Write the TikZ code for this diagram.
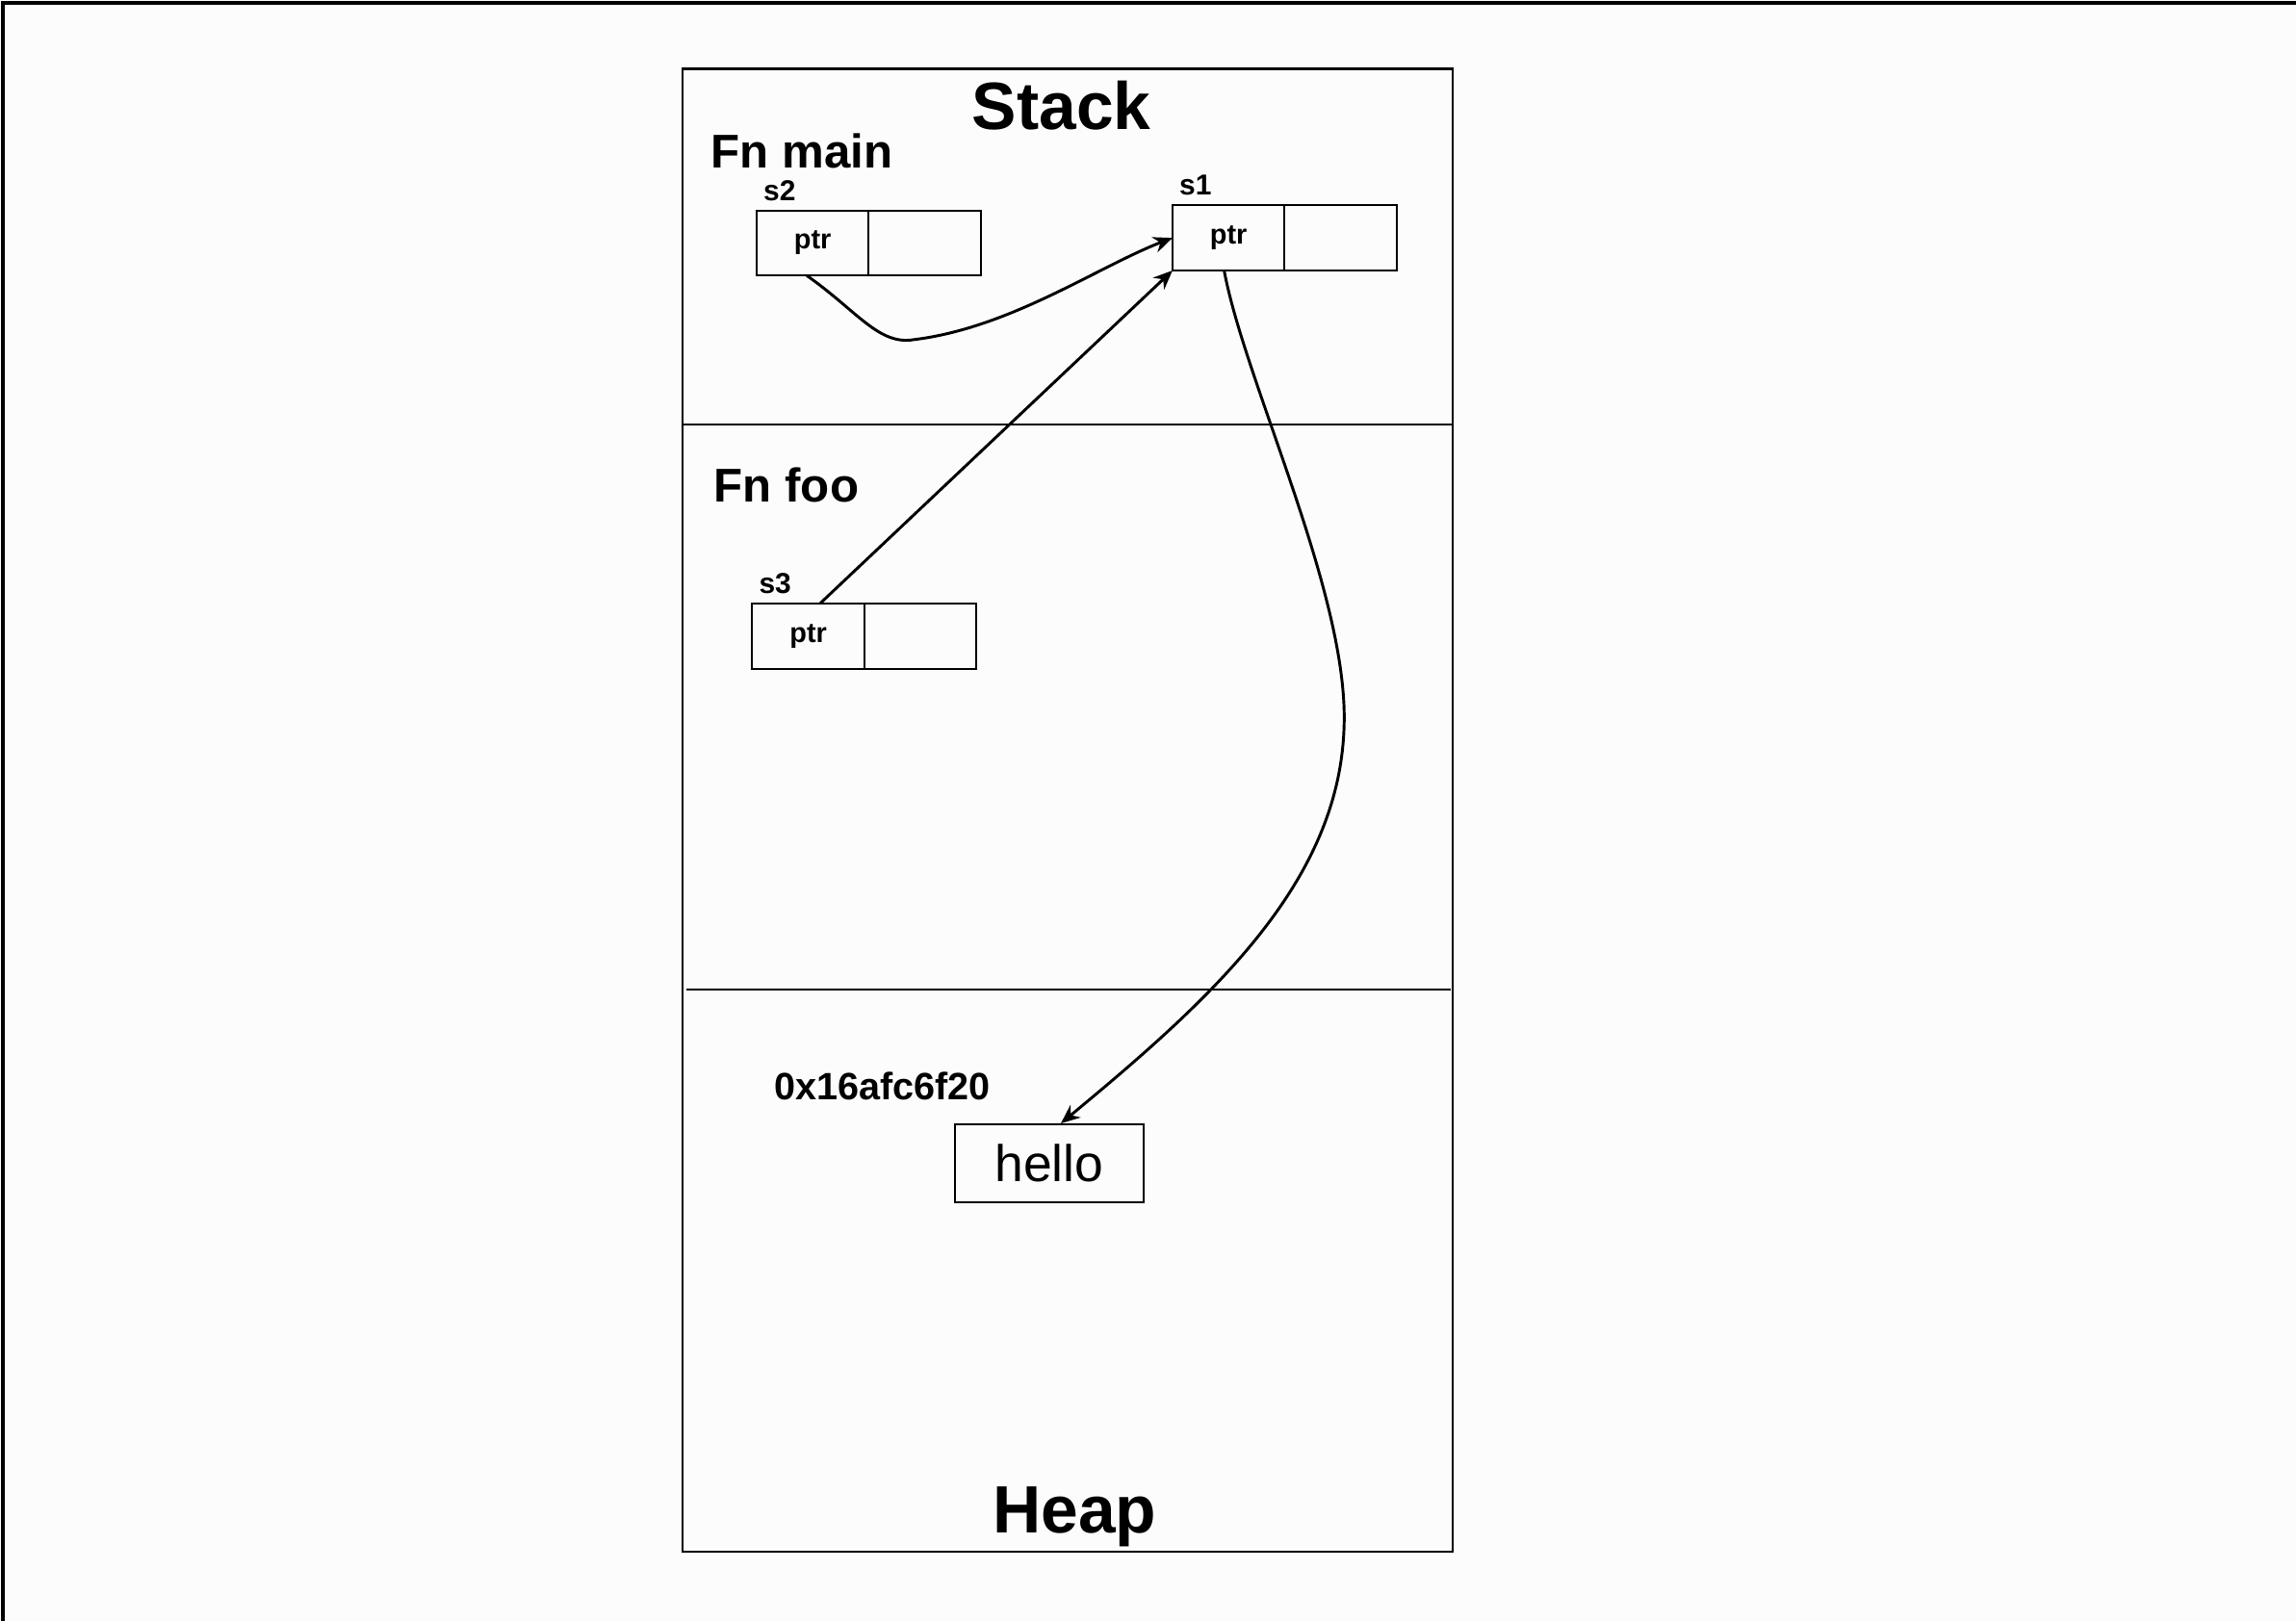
\documentclass[tikz,border=0pt]{standalone}
\usepackage{fontspec}
\setmainfont{Liberation Sans}
\usetikzlibrary{arrows.meta,positioning}
\definecolor{paper}{RGB}{252,252,252}

\tikzset{
  cell/.style={draw, line width=0.4pt, outer sep=0pt, inner sep=0pt,
    minimum width=0.765cm, minimum height=0.445cm,
    font=\fontsize{5.4}{6}\selectfont\bfseries},
  varname/.style={inner sep=0pt, font=\fontsize{5.6}{6}\selectfont\bfseries},
  frame/.style={inner sep=0pt, font=\fontsize{9.2}{10}\selectfont\bfseries},
  region/.style={inner sep=0pt, font=\fontsize{13}{14}\selectfont\bfseries},
  link/.style={line width=0.55pt, -{Stealth[length=1.3mm,width=1.1mm]}}
}

\begin{document}
\begin{tikzpicture}[x=0.01cm,y=-0.01cm]
\fill [paper] (0,0) rectangle (1568,1107);
\useasboundingbox (0,0) rectangle (1568,1107);
\draw [line width=0.6pt] (2,1107) -- (2,2) -- (1568,2);

% memory
\draw [line width=0.4pt] (466,47) rectangle (992,1060);
\draw [line width=0.4pt] (466,290) -- (992,290);
\draw [line width=0.4pt] (469,676) -- (991,676);
\node [region] (stack) at (725,72) {Stack};
\node [region] (heap) at (734,1036) {Heap};

% fn main
\node [frame, anchor=west] (fnmain) at (485,103) {Fn main};
\node [cell] (s2ptr) at (555,166) {ptr};
\node [cell, right=0pt of s2ptr] (s2val) {};
\node [varname, anchor=south west] (s2) at ([xshift=0.04cm,yshift=0.06cm]s2ptr.north west) {s2};
\node [cell] (s1ptr) at (839,162.5) {ptr};
\node [cell, right=0pt of s1ptr] (s1val) {};
\node [varname, anchor=south west] (s1) at ([xshift=0.04cm,yshift=0.06cm]s1ptr.north west) {s1};

% fn foo
\node [frame, anchor=west] (fnfoo) at (487,331) {Fn foo};
\node [cell] (s3ptr) at (552,434.5) {ptr};
\node [cell, right=0pt of s3ptr] (s3val) {};
\node [varname, anchor=south west] (s3) at ([xshift=0.04cm,yshift=0.06cm]s3ptr.north west) {s3};

% heap
\node [inner sep=0pt, font=\fontsize{7.4}{8}\selectfont\bfseries, anchor=west] (addr) at (528,742) {0x16afc6f20};
\node [draw, line width=0.4pt, inner sep=0pt, minimum width=1.29cm, minimum height=0.53cm,
  font=\fontsize{10}{11}\selectfont] (hello) at (716.5,794.5) {hello};

\draw [link] ([xshift=-0.04cm]s2ptr.south) .. controls (585,212) and (600,236) .. (624,232)
  .. controls (690,224) and (750,182) .. (s1ptr.west);
\draw [link] ([xshift=0.08cm]s3ptr.north) -- (s1ptr.south west);
\draw [link] ([xshift=-0.03cm]s1ptr.south) .. controls (850,260) and (918,400) .. (918,490)
  .. controls (918,600) and (830,680) .. ([xshift=0.08cm]hello.north);
\end{tikzpicture}
\end{document}
